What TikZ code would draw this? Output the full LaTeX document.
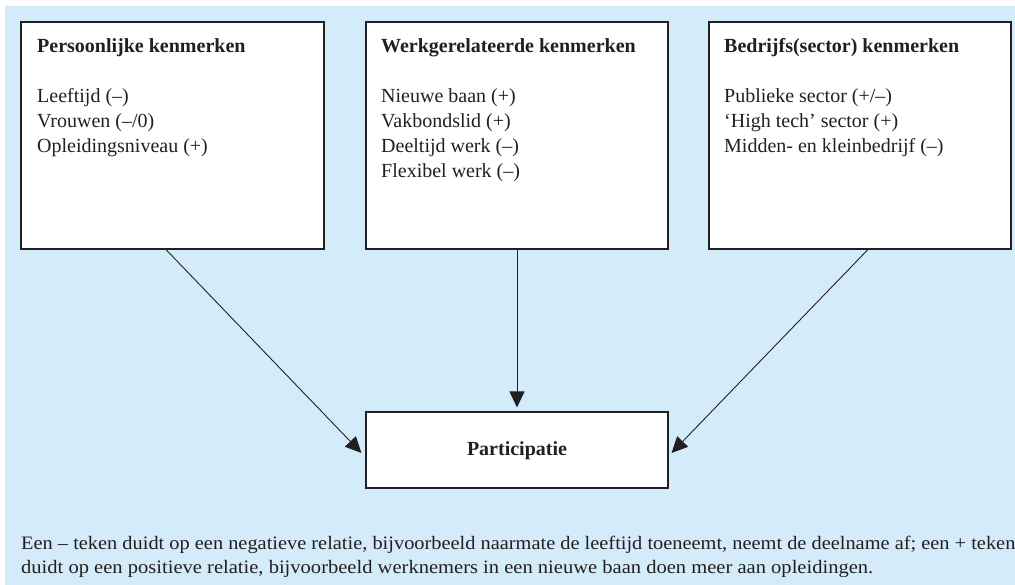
\documentclass[tikz,border=0pt]{standalone}
\usepackage{fontspec}
\usepackage{graphicx}
\setmainfont{Liberation Serif}
\usetikzlibrary{arrows.meta,calc,shadows}
\definecolor{bg}{HTML}{D4ECF9}
\definecolor{ink}{HTML}{231F20}
\definecolor{shade}{HTML}{9B9B9B}
\tikzset{
  panel/.style={draw=ink, line width=1.1pt, fill=white, inner sep=0pt,
    drop shadow={shadow xshift=1.2pt, shadow yshift=-1.2pt, fill=shade, opacity=1}},
  txt/.style={anchor=base west, inner sep=0pt, text=ink, font=\fontsize{20}{25}\selectfont},
  head/.style={txt, font=\fontsize{20}{25}\selectfont\bfseries},
  note/.style={anchor=base west, inner sep=0pt, text=ink, font=\fontsize{19}{24}\selectfont},
  conn/.style={draw=ink, line width=0.9pt, -{Triangle[length=16pt,width=15pt]}}
}
\begin{document}
\begin{tikzpicture}[x=1pt,y=-1pt]
\useasboundingbox (0,0) rectangle (1015,585);
\fill[bg] (5,6) rectangle (1015,585);

% boxes
\node[panel, minimum width=303pt, minimum height=227pt] (pk) at (172.5,135.5) {};
\node[panel, minimum width=302pt, minimum height=227pt] (wk) at (517,135.5) {};
\node[panel, minimum width=302pt, minimum height=227pt] (bk) at (860,135.5) {};
\node[panel, minimum width=302pt, minimum height=76pt] (part) at (517,450) {};

% box 1 text
\node[head] (pkh) at (37,53) {Persoonlijke kenmerken};
\node[txt] (pk1) at (37,103) {Leeftijd (–)};
\node[txt] (pk2) at (37,128) {Vrouwen (–/0)};
\node[txt] (pk3) at (37,153) {Opleidingsniveau (+)};

% box 2 text
\node[head] (wkh) at (381,53) {Werkgerelateerde kenmerken};
\node[txt] (wk1) at (381,103) {Nieuwe baan (+)};
\node[txt] (wk2) at (381,128) {Vakbondslid (+)};
\node[txt] (wk3) at (381,153) {Deeltijd werk (–)};
\node[txt] (wk4) at (381,178) {Flexibel werk (–)};

% box 3 text
\node[head] (bkh) at (724,53) {Bedrijfs(sector) kenmerken};
\node[txt] (bk1) at (724,103) {Publieke sector (+/–)};
\node[txt] (bk2) at (724,128) {‘High tech’ sector (+)};
\node[txt] (bk3) at (724,153) {Midden- en kleinbedrijf (–)};

% participatie
\node[head, anchor=base] (partl) at (517,455) {Participatie};

% connectors
\draw[conn] ($(pk.south west)!0.4785!(pk.south east)$) -- ($(part.west)+(-4,3)$);
\draw[conn, shorten >=4pt] (wk.south) -- (part.north);
\draw[conn] ($(bk.south west)!0.526!(bk.south east)$) -- ($(part.east)+(3,3)$);

% footnote
\node[note] (n1) at (21,549) {\resizebox{994pt}{\height}{Een – teken duidt op een negatieve relatie, bijvoorbeeld naarmate de leeftijd toeneemt, neemt de deelname af; een + teken}};
\node[note] (n2) at (21,573) {\resizebox{852pt}{\height}{duidt op een positieve relatie, bijvoorbeeld werknemers in een nieuwe baan doen meer aan opleidingen.}};
\end{tikzpicture}
\end{document}
